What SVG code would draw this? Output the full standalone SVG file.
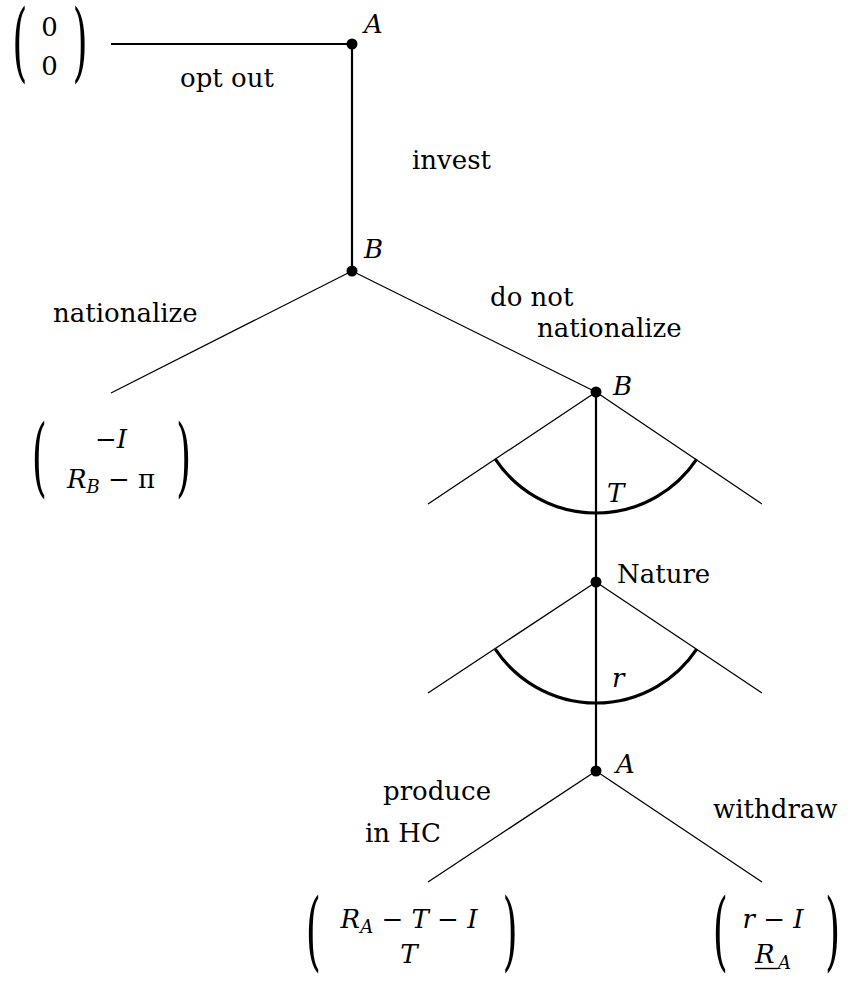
<svg xmlns="http://www.w3.org/2000/svg" width="850" height="981" viewBox="0 0 850 981">
<style>
  text { font-family: "DejaVu Serif", serif; font-size: 26px; fill: #000; }
  .it { font-style: italic; }
  .sub { font-size: 18px; font-style: italic; }
  .thick { stroke: #000; stroke-width: 2.2; fill: none; }
  .thin { stroke: #000; stroke-width: 1.3; fill: none; }
  .arc { stroke: #000; stroke-width: 3.2; fill: none; }
  .dot { fill: #000; }
</style>
<rect width="850" height="981" fill="#fff"/>
<g id="connectors">
  <line class="thick" x1="111" y1="44" x2="352" y2="44"/>
  <line class="thick" x1="352" y1="44" x2="352" y2="271"/>
  <line class="thin" x1="352" y1="271" x2="111" y2="393"/>
  <line class="thin" x1="352" y1="271" x2="596" y2="392"/>
  <line class="thin" x1="596" y1="392" x2="428" y2="504"/>
  <line class="thin" x1="596" y1="392" x2="762" y2="504"/>
  <line class="thick" x1="596" y1="392" x2="596" y2="582"/>
  <path class="arc" d="M495.3,459.1 A121,121 0 0 0 696.7,459.1"/>
  <line class="thin" x1="596" y1="582" x2="428" y2="693"/>
  <line class="thin" x1="596" y1="582" x2="762" y2="693"/>
  <line class="thick" x1="596" y1="582" x2="596" y2="771"/>
  <path class="arc" d="M495.3,649.1 A121,121 0 0 0 696.7,649.1"/>
  <line class="thin" x1="596" y1="771" x2="428" y2="882"/>
  <line class="thin" x1="596" y1="771" x2="762" y2="882"/>
  <text x="180" y="87">opt out</text>
  <text x="412" y="169">invest</text>
  <text x="53" y="322">nationalize</text>
  <text x="490" y="306">do not</text>
  <text x="537" y="337">nationalize</text>
  <text class="it" x="607" y="502">T</text>
  <text class="it" x="612" y="687">r</text>
  <text x="383" y="800">produce</text>
  <text x="365" y="842">in HC</text>
  <text x="713" y="818">withdraw</text>
</g>
<g id="nodeA1">
  <circle class="dot" cx="352" cy="44" r="5.5"/>
  <text class="it" x="364" y="33">A</text>
</g>
<g id="nodeB1">
  <circle class="dot" cx="352" cy="271" r="5.5"/>
  <text class="it" x="364" y="258">B</text>
</g>
<g id="nodeB2">
  <circle class="dot" cx="596" cy="392" r="5.5"/>
  <text class="it" x="613" y="395">B</text>
</g>
<g id="nodeNature">
  <circle class="dot" cx="596" cy="582" r="5.5"/>
  <text x="617" y="583">Nature</text>
</g>
<g id="nodeA2">
  <circle class="dot" cx="596" cy="771" r="5.5"/>
  <text class="it" x="616" y="773">A</text>
</g>
<g id="payoffOptOut">
  <text transform="translate(12.2,71) scale(1.5,3.33)">(</text>
  <text x="49.5" y="36" text-anchor="middle">0</text>
  <text x="49.5" y="75" text-anchor="middle">0</text>
  <text transform="translate(72.6,71) scale(1.5,3.33)">)</text>
</g>
<g id="payoffNationalize">
  <text transform="translate(31.7,486) scale(1.5,3.33)">(</text>
  <text x="111" y="448" text-anchor="middle">−<tspan class="it">I</tspan></text>
  <text x="111" y="488" text-anchor="middle"><tspan class="it">R</tspan><tspan class="sub" dy="5">B</tspan><tspan dy="-5"> − π</tspan></text>
  <text transform="translate(176.1,486) scale(1.5,3.33)">)</text>
</g>
<g id="payoffProduce">
  <text transform="translate(305.7,960) scale(1.5,3.3)">(</text>
  <text x="409" y="928" text-anchor="middle"><tspan class="it">R</tspan><tspan class="sub" dy="5">A</tspan><tspan dy="-5"> − </tspan><tspan class="it">T</tspan> − <tspan class="it">I</tspan></text>
  <text class="it" x="409" y="963" text-anchor="middle">T</text>
  <text transform="translate(502.6,960) scale(1.5,3.3)">)</text>
</g>
<g id="payoffWithdraw">
  <text transform="translate(712.7,960) scale(1.5,3.3)">(</text>
  <text x="773" y="928" text-anchor="middle"><tspan class="it">r</tspan> − <tspan class="it">I</tspan></text>
  <text class="it" x="755" y="963">R</text>
  <text class="sub" x="778" y="969">A</text>
  <line x1="755" y1="968.5" x2="778" y2="968.5" stroke="#000" stroke-width="1.4"/>
  <text transform="translate(825.1,960) scale(1.5,3.3)">)</text>
</g>
</svg>
